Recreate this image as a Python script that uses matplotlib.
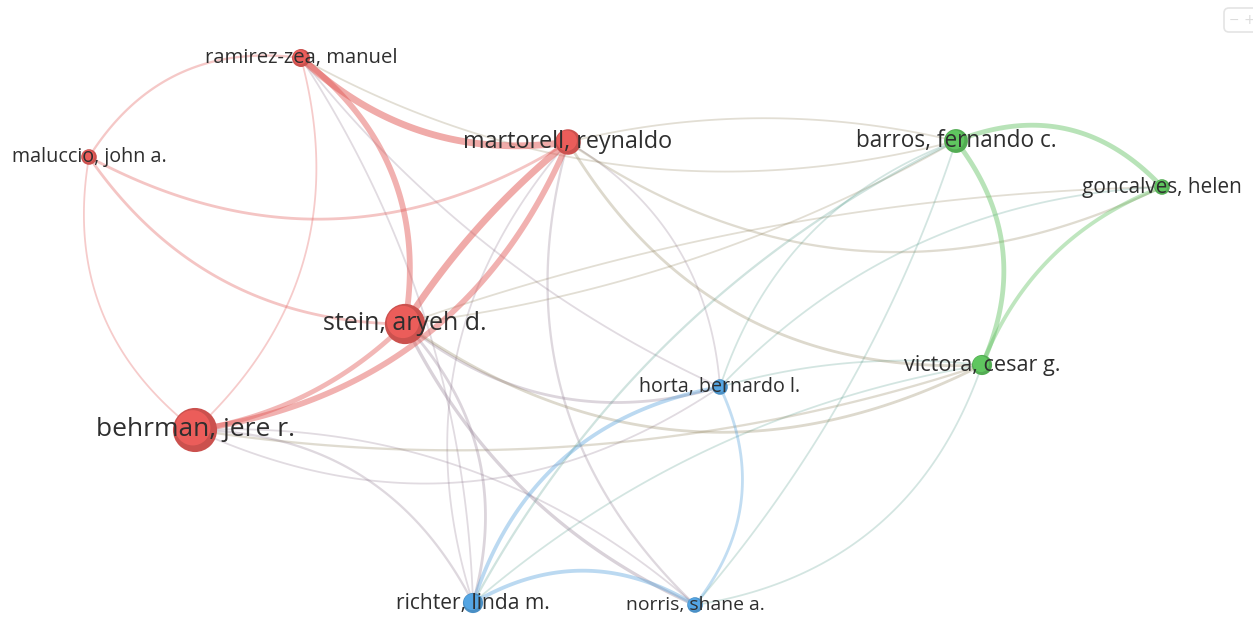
import numpy as np
import matplotlib.pyplot as plt
from matplotlib.patches import Circle, FancyBboxPatch
from matplotlib.colors import to_rgb

W, H = 1253, 617

# nodes (map coordinates in pixels, y downwards)
ids = ["ramirez", "maluccio", "martorell", "stein", "behrman", "barros",
       "goncalves", "victora", "horta", "richter", "norris"]
labels = ["ramirez-zea, manuel", "maluccio, john a.", "martorell, reynaldo",
          "stein, aryeh d.", "behrman, jere r.", "barros, fernando c.",
          "goncalves, helen", "victora, cesar g.", "horta, bernardo l.",
          "richter, linda m.", "norris, shane a."]
node_x = [301, 89, 568, 405, 195, 956, 1162, 982, 720, 473, 695]
node_y = [58, 157, 142, 324, 430, 141, 187, 365, 387, 603, 605]
weight = [4, 3, 8, 20, 24, 7, 3, 5, 3, 5, 3]
cluster = [0, 0, 0, 0, 0, 1, 1, 1, 2, 2, 2]

# co-authorship links (source, target, strength)
links = [
    ("ramirez", "martorell", 6), ("ramirez", "stein", 5), ("martorell", "stein", 6),
    ("behrman", "martorell", 5), ("behrman", "stein", 4), ("maluccio", "ramirez", 1.5),
    ("maluccio", "martorell", 2), ("maluccio", "stein", 2), ("maluccio", "behrman", 1),
    ("ramirez", "behrman", 1), ("ramirez", "richter", 1), ("ramirez", "horta", 1),
    ("ramirez", "barros", 1), ("stein", "richter", 2), ("martorell", "richter", 1),
    ("martorell", "norris", 1.5), ("stein", "norris", 2.5), ("stein", "horta", 2),
    ("stein", "victora", 2), ("stein", "barros", 1), ("stein", "goncalves", 1),
    ("martorell", "victora", 2), ("martorell", "barros", 1), ("martorell", "goncalves", 1.5),
    ("martorell", "horta", 1), ("barros", "goncalves", 4), ("barros", "victora", 4),
    ("goncalves", "victora", 3), ("victora", "horta", 1), ("behrman", "horta", 1),
    ("behrman", "victora", 1.5), ("behrman", "richter", 1.5), ("behrman", "norris", 1),
    ("horta", "richter", 3), ("horta", "norris", 2), ("richter", "norris", 3),
    ("richter", "barros", 1.5), ("norris", "barros", 1), ("richter", "victora", 1),
    ("norris", "victora", 1), ("horta", "barros", 1), ("horta", "goncalves", 1),
]

# drawing style
bends = [0.12, -0.15, 0.04, 0.14, 0.08, -0.16, 0.145, 0.13, 0.15, -0.15, -0.07, 0.06,
         0.10, -0.14, 0.14, 0.15, 0.09, 0.13, 0.15, 0.05, -0.04, 0.15, -0.06, 0.145,
         -0.13, -0.17, -0.15, 0.11, 0.05, 0.14, 0.06, -0.15, -0.1, 0.15, -0.155, -0.15,
         -0.08, 0.05, -0.07, 0.15, -0.12, -0.1]
label_width = [192, 154, 208, 163, 198, 200, 159, 155, 160, 153, 138]
cluster_colors = ["#e25a57", "#5cbf5c", "#519fdb"]

fig = plt.figure(figsize=(W / 100, H / 100), dpi=100)
ax = fig.add_axes([0, 0, 1, 1])
ax.set_xlim(0, W)
ax.set_ylim(H, 0)
ax.axis("off")

pos = {k: np.array([x, y], float) for k, x, y in zip(ids, node_x, node_y)}
col = {k: np.array(to_rgb(cluster_colors[c])) for k, c in zip(ids, cluster)}

t = np.linspace(0, 1, 80)[:, None]
order = np.argsort([s for _, _, s in links], kind="stable")
for i in order:
    a, b, s = links[i]
    p0, p2 = pos[a], pos[b]
    d = p2 - p0
    L = np.hypot(*d)
    n = np.array([-d[1], d[0]]) / L
    p1 = (p0 + p2) / 2 + n * 2 * bends[i] * L
    curve = (1 - t) ** 2 * p0 + 2 * (1 - t) * t * p1 + t ** 2 * p2
    c = (col[a] + col[b]) / 2
    alpha = 0.2 + 0.04 * s
    if cluster[ids.index(a)] != cluster[ids.index(b)]:
        c = c * 0.85
    else:
        alpha += 0.07
    ax.plot(curve[:, 0], curve[:, 1], color=c, alpha=alpha,
            lw=(0.8 + 1.0 * s) * 0.72, solid_capstyle="round", zorder=1)

for k, w, c in zip(ids, weight, cluster):
    r = 4.5 * np.sqrt(w)
    base = np.array(to_rgb(cluster_colors[c]))
    ax.add_patch(Circle(pos[k], r, fc=base * 0.9, ec="none", zorder=3))
    ax.add_patch(Circle(pos[k] - r * 0.1, r * 0.8, fc=np.minimum(base * 1.1, 1),
                        ec="none", alpha=0.7, zorder=3))

texts = []
for k, lab in zip(ids, labels):
    texts.append(ax.text(pos[k][0], pos[k][1], lab, ha="center", va="center",
                         fontsize=12, family=["Open Sans", "DejaVu Sans"],
                         color="#2e2e2e", zorder=5))
fig.canvas.draw()
rend = fig.canvas.get_renderer()
for tx, tw in zip(texts, label_width):
    w = tx.get_window_extent(rend).width
    tx.set_fontsize(tx.get_fontsize() * tw / w)

# zoom control in the corner
ax.add_patch(FancyBboxPatch((1224, 8), 40, 24, boxstyle="round,pad=0,rounding_size=5",
                            ec="#e4e4e4", fc="none", lw=1.2, zorder=6))
ax.text(1234, 20, "\u2212", ha="center", va="center", fontsize=9, color="#dcdcdc", zorder=6)
ax.text(1249, 20, "+", ha="center", va="center", fontsize=10, color="#dcdcdc", zorder=6)

fig.savefig("out.png", dpi=100)
